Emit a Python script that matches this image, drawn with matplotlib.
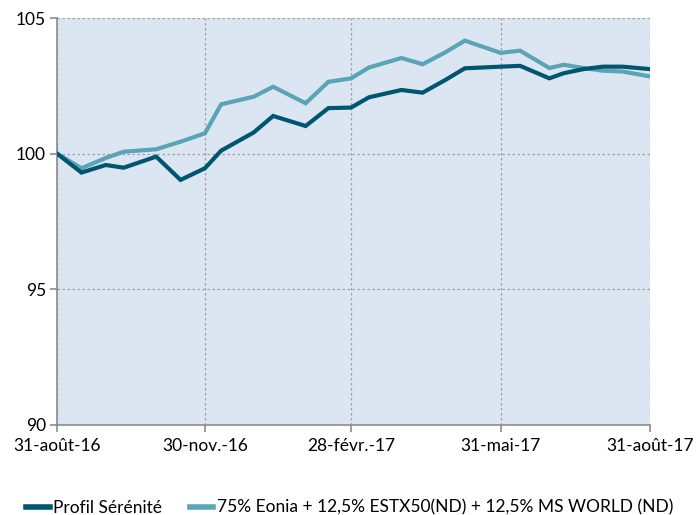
import numpy as np
import pandas as pd
import matplotlib
matplotlib.use("Agg")
import matplotlib.pyplot as plt

# Dates of the observations
dates = pd.to_datetime([
    "2016-08-31", "2016-09-15", "2016-09-30", "2016-10-11", "2016-10-31",
    "2016-11-15", "2016-11-30", "2016-12-10", "2016-12-30", "2017-01-11",
    "2017-01-31", "2017-02-14", "2017-02-28", "2017-03-11", "2017-03-31",
    "2017-04-13", "2017-04-27", "2017-05-09", "2017-05-31", "2017-06-12",
    "2017-06-30", "2017-07-09", "2017-07-21", "2017-08-02", "2017-08-14",
    "2017-08-31",
])

profil = [100.00, 99.30, 99.58, 99.48, 99.89, 99.03, 99.46, 100.11, 100.78,
          101.39, 101.02, 101.68, 101.70, 102.08, 102.35, 102.25, 102.72,
          103.15, 103.21, 103.24, 102.78, 102.97, 103.12, 103.21, 103.21,
          103.12]

benchmark = [100.00, 99.46, 99.84, 100.07, 100.16, 100.44, 100.75, 101.82,
             102.10, 102.47, 101.86, 102.65, 102.78, 103.18, 103.53, 103.30,
             103.74, 104.17, 103.72, 103.80, 103.16, 103.28, 103.16, 103.06,
             103.03, 102.85]

tick_dates = pd.to_datetime(["2016-08-31", "2016-11-30", "2017-02-28",
                             "2017-05-31", "2017-08-31"])
tick_labels = ["31-août-16", "30-nov.-16", "28-févr.-17", "31-mai-17",
               "31-août-17"]
y_ticks = [90, 95, 100, 105]

labels = ["Profil Sérénité",
          "75% Eonia + 12,5% ESTX50(ND) + 12,5% MS WORLD (ND)"]

plt.rcParams['font.family'] = ['Lato', 'DejaVu Sans']

fig = plt.figure(figsize=(6.96, 5.15), dpi=100)
ax = fig.add_axes([0.082, 0.1757, 0.852, 0.789])
ax.set_facecolor("#DCE6F2")

ax.plot(dates, profil, color="#00566F", lw=3.0, label=labels[0],
        solid_joinstyle="miter", zorder=4)
ax.plot(dates, benchmark, color="#5BA4B6", lw=3.0, label=labels[1],
        solid_joinstyle="miter", zorder=3)

ax.set_xlim(tick_dates[0], tick_dates[-1])
ax.set_ylim(90, 105)
ax.set_xticks(tick_dates)
ax.set_xticklabels(tick_labels)
ax.set_yticks(y_ticks)

ax.grid(True, color="#A0A0A0", linestyle=(0, (2, 2)), lw=0.9)
ax.set_axisbelow(True)

for s in ["top", "right"]:
    ax.spines[s].set_visible(False)
for s in ["left", "bottom"]:
    ax.spines[s].set_color("#8C8C8C")
    ax.spines[s].set_linewidth(1.2)

ax.tick_params(axis="both", colors="#8C8C8C", length=5, width=1.2,
               labelsize=12.5, labelcolor="black")
ax.tick_params(axis="x", pad=5)
ax.tick_params(axis="y", pad=3)

leg = fig.legend(loc="lower left", bbox_to_anchor=(0.015, -0.032), ncol=2,
                 frameon=False, fontsize=12.5, handlelength=1.35,
                 handletextpad=0.2, columnspacing=1.6)
for line in leg.get_lines():
    line.set_linewidth(4)

fig.savefig("out.png", dpi=100)
